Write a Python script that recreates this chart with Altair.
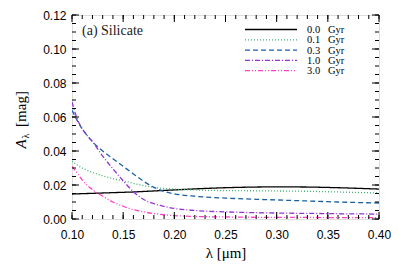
import altair as alt
import pandas as pd

# ---- data ----
wavelength = [0.100, 0.105, 0.110, 0.115, 0.120, 0.130, 0.140, 0.150, 0.160, 0.170,
              0.180, 0.190, 0.200, 0.220, 0.250, 0.280, 0.300, 0.330, 0.360, 0.400]
gyr_00 = [0.0147, 0.0148, 0.0149, 0.0150, 0.0151, 0.0153, 0.0155, 0.0157, 0.0159, 0.0162,
          0.0165, 0.0168, 0.0171, 0.0177, 0.0184, 0.0188, 0.0189, 0.0188, 0.0184, 0.0176]
gyr_01 = [0.0340, 0.0318, 0.0300, 0.0286, 0.0274, 0.0254, 0.0238, 0.0224, 0.0210, 0.0196,
          0.0186, 0.0180, 0.0176, 0.0171, 0.0167, 0.0166, 0.0165, 0.0163, 0.0159, 0.0153]
gyr_03 = [0.0640, 0.0580, 0.0530, 0.0490, 0.0455, 0.0400, 0.0355, 0.0310, 0.0265, 0.0222,
          0.0186, 0.0162, 0.0148, 0.0134, 0.0123, 0.0116, 0.0112, 0.0106, 0.0100, 0.0094]
gyr_10 = [0.0688, 0.0590, 0.0530, 0.0490, 0.0455, 0.0370, 0.0295, 0.0225, 0.0160, 0.0115,
          0.0090, 0.0074, 0.0062, 0.0050, 0.0042, 0.0037, 0.0035, 0.0033, 0.0031, 0.0029]
gyr_30 = [0.0310, 0.0270, 0.0230, 0.0198, 0.0172, 0.0134, 0.0100, 0.0075, 0.0055, 0.0042,
          0.0032, 0.0025, 0.0020, 0.0015, 0.0012, 0.0010, 0.0009, 0.0009, 0.0008, 0.0008]

series_names = ["0.0 Gyr", "0.1 Gyr", "0.3 Gyr", "1.0 Gyr", "3.0 Gyr"]
series_values = [gyr_00, gyr_01, gyr_03, gyr_10, gyr_30]
series_colors = ["#000000", "#3cb371", "#1a5fa6", "#9333d6", "#ff40c8"]
series_dashes = [[1, 0], [1, 2], [5, 3], [5, 2, 1, 2], [5, 2, 1, 2, 1, 2]]

x_major = [0.10, 0.15, 0.20, 0.25, 0.30, 0.35, 0.40]
x_minor = [round(0.10 + 0.01 * i, 2) for i in range(31)]
y_major = [0.00, 0.02, 0.04, 0.06, 0.08, 0.10, 0.12]
y_minor = [round(0.005 * i, 3) for i in range(25)]

W, H = 307, 204
SERIF = "Liberation Serif"
SANS = "Liberation Sans"

rows = []
for name, vals in zip(series_names, series_values):
    for lam, v in zip(wavelength, vals):
        rows.append({"lam": lam, "A": v, "series": name})
df = pd.DataFrame(rows)

xscale = alt.Scale(domain=[0.10, 0.40], nice=False, zero=False)
yscale = alt.Scale(domain=[0.0, 0.12], nice=False, zero=False)

x_axis = alt.Axis(values=x_major, format=".2f", ticks=False, domain=False, grid=False,
                  labelOverlap=False, labelFlush=False, labelBound=False,
                  labelFont=SANS, labelFontSize=12, labelColor="#000", labelPadding=10,
                  title="λ [μm]", titleFont=SERIF, titleFontSize=15,
                  titleFontWeight="normal", titleColor="#000", titlePadding=5)
y_axis = alt.Axis(values=y_major, format=".2f", ticks=False, domain=False, grid=False,
                  labelOverlap=False, labelFlush=False, labelBound=False,
                  labelFont=SANS, labelFontSize=12, labelColor="#000", labelPadding=6,
                  title="")

lines = alt.Chart(df).mark_line(strokeWidth=1.3, interpolate="monotone", clip=True).encode(
    x=alt.X("lam:Q", scale=xscale, axis=x_axis, title="λ [μm]"),
    y=alt.Y("A:Q", scale=yscale, axis=y_axis, title=""),
    color=alt.Color("series:N", scale=alt.Scale(domain=series_names, range=series_colors), legend=None),
    strokeDash=alt.StrokeDash("series:N", scale=alt.Scale(domain=series_names, range=series_dashes), legend=None),
)

xmaj = pd.DataFrame({"v": x_major})
xmin = pd.DataFrame({"v": x_minor})
ymaj = pd.DataFrame({"v": y_major})
ymin = pd.DataFrame({"v": y_minor})

def xticks(data, length):
    b = alt.Chart(data).mark_rule(color="#000", strokeWidth=1).encode(
        x=alt.X("v:Q", scale=xscale, axis=x_axis, title="λ [μm]"),
        y=alt.value(H), y2=alt.value(H - length))
    t = alt.Chart(data).mark_rule(color="#000", strokeWidth=1).encode(
        x=alt.X("v:Q", scale=xscale, axis=x_axis, title="λ [μm]"),
        y=alt.value(0), y2=alt.value(length))
    return [b, t]

def yticks(data, length):
    l = alt.Chart(data).mark_rule(color="#000", strokeWidth=1).encode(
        y=alt.Y("v:Q", scale=yscale, axis=y_axis, title=""),
        x=alt.value(0), x2=alt.value(length))
    r = alt.Chart(data).mark_rule(color="#000", strokeWidth=1).encode(
        y=alt.Y("v:Q", scale=yscale, axis=y_axis, title=""),
        x=alt.value(W), x2=alt.value(W - length))
    return [l, r]

ticks = xticks(xmaj, 7) + xticks(xmin, 4) + yticks(ymaj, 7) + yticks(ymin, 4)

# legend (manual)
legend_layers = []
for i, (name, col, dash) in enumerate(zip(series_names, series_colors, series_dashes)):
    yy = 14.5 + 10.3 * i
    ld = pd.DataFrame({"series": [name]})
    legend_layers.append(alt.Chart(ld).mark_rule(color=col, strokeDash=dash, strokeWidth=1.3).encode(
        x=alt.value(173), x2=alt.value(225), y=alt.value(yy)))
    legend_layers.append(alt.Chart(ld).mark_text(
        align="left", baseline="middle", font=SERIF, fontSize=10.5, color="#000").encode(
        x=alt.value(235), y=alt.value(yy + 0.5),
        text=alt.value(name.replace(" ", "\u00a0\u00a0\u00a0"))))

label = pd.DataFrame({"t": ["(a) Silicate"]})
panel_label = alt.Chart(label).mark_text(
    align="left", baseline="middle", font=SERIF, fontSize=14, color="#222").encode(
    x=alt.value(10), y=alt.value(16), text="t:N")

ytitle_df = pd.DataFrame({"t": ["x"]})
ytitle = [
    alt.Chart(ytitle_df).mark_text(angle=270, align="center", baseline="middle", font=SERIF,
                                   fontSize=15, fontStyle="italic", color="#000").encode(
        x=alt.value(-51), y=alt.value(129), text=alt.value("A")),
    alt.Chart(ytitle_df).mark_text(angle=270, align="center", baseline="middle", font=SERIF,
                                   fontSize=10, color="#000").encode(
        x=alt.value(-46), y=alt.value(121), text=alt.value("λ")),
    alt.Chart(ytitle_df).mark_text(angle=270, align="center", baseline="middle", font=SERIF,
                                   fontSize=15, color="#000").encode(
        x=alt.value(-51), y=alt.value(94), text=alt.value("[mag]")),
]

chart = alt.layer(lines, *ticks, *legend_layers, panel_label, *ytitle).properties(
    width=W, height=H,
    autosize=alt.AutoSizeParams(type="none"),
    padding={"left": 64, "top": 7, "right": 12, "bottom": 46},
).configure_view(stroke="#000", strokeWidth=1).configure(background="white")

chart.save("out.html", embed_options={"renderer": "svg", "actions": False})
